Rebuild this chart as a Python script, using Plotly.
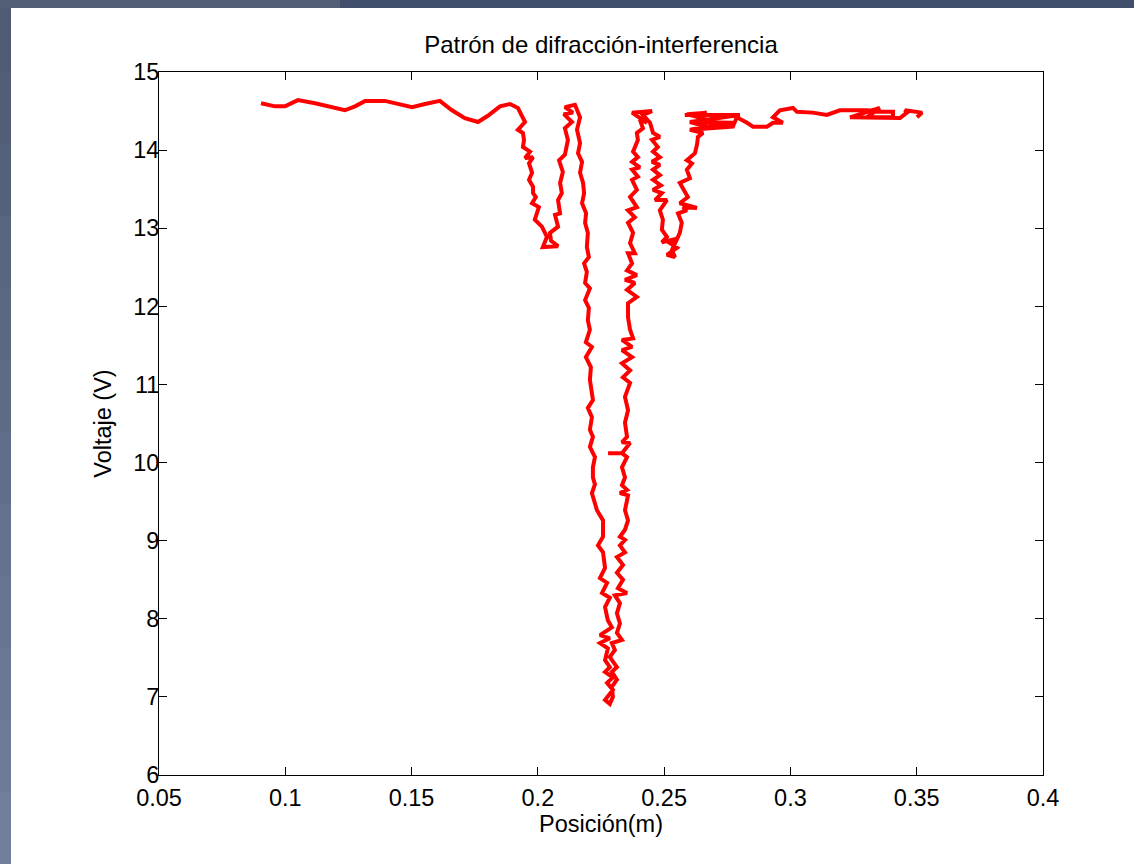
import plotly.graph_objects as go

# ---- data ----
posicion_m = [
    0.0904, 0.0959, 0.0999, 0.1050, 0.1118, 0.1177, 0.1236, 0.1276, 0.1316, 0.1395,
    0.1454, 0.1502, 0.1553, 0.1612, 0.1660, 0.1711, 0.1763, 0.1802, 0.1850, 0.1890,
    0.1921, 0.1941, 0.1949,
    # first side dip, down
    0.1921, 0.1941, 0.1945, 0.1941, 0.1969, 0.1949, 0.1981, 0.1965, 0.1977, 0.1965,
    0.1981, 0.1981, 0.1992, 0.1977, 0.2004, 0.1988, 0.2016, 0.2036, 0.2020, 0.2080,
    # first side dip, up
    0.2052, 0.2048, 0.2080, 0.2068, 0.2088, 0.2080, 0.2095, 0.2088, 0.2099, 0.2084,
    0.2107, 0.2119, 0.2107, 0.2135, 0.2103, 0.2139, 0.2107, 0.2147,
    # central minimum, down
    0.2167, 0.2155, 0.2167, 0.2159, 0.2175, 0.2167, 0.2179, 0.2183, 0.2175, 0.2191,
    0.2187, 0.2198, 0.2194, 0.2202, 0.2183, 0.2194, 0.2187, 0.2206, 0.2187, 0.2202,
    0.2198, 0.2206, 0.2190, 0.2214, 0.2190, 0.2210, 0.2206, 0.2214, 0.2218, 0.2198,
    0.2214, 0.2206, 0.2218, 0.2206, 0.2226, 0.2218, 0.2218, 0.2226, 0.2214, 0.2234,
    0.2258, 0.2258, 0.2238, 0.2258, 0.2266, 0.2246, 0.2274, 0.2254, 0.2285, 0.2266,
    0.2277, 0.2293, 0.2246, 0.2285, 0.2246, 0.2277, 0.2266, 0.2285, 0.2266, 0.2297,
    0.2274, 0.2297, 0.2266, 0.2285,
    # central minimum, up
    0.2297, 0.2293, 0.2313, 0.2293, 0.2313, 0.2285, 0.2305, 0.2293, 0.2333, 0.2313,
    0.2325, 0.2313, 0.2325, 0.2305, 0.2353, 0.2317, 0.2337, 0.2313, 0.2337, 0.2313,
    0.2345, 0.2325, 0.2345, 0.2325, 0.2345, 0.2357, 0.2345, 0.2357, 0.2325, 0.2353,
    0.2333, 0.2345, 0.2333, 0.2353, 0.2333, 0.2278, 0.2333, 0.2365, 0.2333, 0.2353,
    0.2345, 0.2357, 0.2345, 0.2365, 0.2337, 0.2365, 0.2333, 0.2373, 0.2333, 0.2373,
    0.2333, 0.2377, 0.2365, 0.2357, 0.2357, 0.2392, 0.2353, 0.2384, 0.2345, 0.2392,
    0.2353, 0.2373, 0.2357, 0.2384, 0.2365, 0.2377, 0.2357, 0.2384, 0.2357, 0.2392,
    0.2365, 0.2392, 0.2373, 0.2396, 0.2373, 0.2404, 0.2373, 0.2396, 0.2377, 0.2396,
    0.2392, 0.2416, 0.2404, 0.2432, 0.2373, 0.2452, 0.2416, 0.2444,
    # second side dip, down
    0.2456, 0.2483, 0.2452, 0.2475, 0.2456, 0.2483, 0.2452, 0.2483, 0.2456, 0.2483,
    0.2456, 0.2487, 0.2456, 0.2491, 0.2464, 0.2511, 0.2483, 0.2495, 0.2491, 0.2511,
    0.2491, 0.2555, 0.2523, 0.2551, 0.2511, 0.2543, 0.2531,
    # second side dip, up
    0.2562, 0.2570, 0.2555, 0.2590, 0.2574, 0.2630, 0.2562, 0.2594, 0.2562, 0.2602,
    0.2590, 0.2610, 0.2590, 0.2622, 0.2630, 0.2634, 0.2654, 0.2602, 0.2669, 0.2602,
    0.2669, 0.2590, 0.2669,
    # right plateau
    0.2582, 0.2800, 0.2602, 0.2772, 0.2602, 0.2772, 0.2788, 0.2828, 0.2852, 0.2907,
    0.2931, 0.2970, 0.2931, 0.2958, 0.3010, 0.3026, 0.3089, 0.3144, 0.3196, 0.3303,
    0.3354, 0.3406, 0.3406, 0.3303, 0.3327, 0.3354, 0.3236, 0.3434, 0.3461, 0.3453,
    0.3521, 0.3513, 0.3501,
]

voltaje_V = [
    14.60, 14.56, 14.56, 14.64, 14.60, 14.55, 14.51, 14.56, 14.63, 14.63,
    14.59, 14.55, 14.59, 14.63, 14.51, 14.41, 14.36, 14.44, 14.56, 14.59,
    14.54, 14.42, 14.36,
    14.26, 14.22, 14.13, 14.04, 13.98, 13.90, 13.91, 13.83, 13.71, 13.62,
    13.53, 13.45, 13.40, 13.32, 13.27, 13.11, 13.02, 12.89, 12.76, 12.77,
    12.84, 12.94, 13.02, 13.17, 13.19, 13.36, 13.45, 13.58, 13.72, 13.87,
    13.94, 14.13, 14.28, 14.36, 14.46, 14.48, 14.55, 14.58,
    14.42, 14.26, 14.09, 13.96, 13.85, 13.71, 13.58, 13.45, 13.32, 13.19,
    13.07, 12.94, 12.76, 12.63, 12.55, 12.44, 12.30, 12.23, 12.08, 11.98,
    11.82, 11.70, 11.54, 11.48, 11.35, 11.22, 11.06, 10.93, 10.80, 10.70,
    10.58, 10.42, 10.33, 10.20, 10.07, 9.94, 9.81, 9.72, 9.61, 9.39,
    9.26, 9.05, 8.94, 8.85, 8.65, 8.52, 8.46, 8.33, 8.27, 8.15,
    7.98, 7.89, 7.79, 7.75, 7.69, 7.62, 7.47, 7.38, 7.32, 7.25,
    7.18, 7.09, 6.96, 6.91,
    7.00, 7.13, 7.22, 7.32, 7.38, 7.51, 7.60, 7.69, 7.73, 7.82,
    7.94, 8.07, 8.20, 8.30, 8.33, 8.39, 8.50, 8.59, 8.69, 8.79,
    8.85, 8.94, 9.01, 9.05, 9.14, 9.26, 9.39, 9.58, 9.61, 9.65,
    9.71, 9.81, 9.94, 10.07, 10.12, 10.12, 10.12, 10.25, 10.26, 10.33,
    10.51, 10.67, 10.84, 11.02, 11.09, 11.18, 11.27, 11.35, 11.44, 11.48,
    11.57, 11.59, 11.70, 11.86, 12.04, 12.12, 12.21, 12.30, 12.34, 12.40,
    12.46, 12.55, 12.68, 12.68, 12.81, 12.94, 13.07, 13.14, 13.23, 13.27,
    13.40, 13.49, 13.62, 13.66, 13.75, 13.78, 13.85, 13.91, 13.98, 14.13,
    14.22, 14.28, 14.39, 14.35, 14.48, 14.50, 14.45, 14.35,
    14.22, 14.17, 14.13, 14.04, 13.98, 13.91, 13.85, 13.81, 13.75, 13.68,
    13.62, 13.55, 13.49, 13.45, 13.36, 13.36, 13.23, 13.11, 12.98, 12.89,
    12.82, 12.87, 12.81, 12.75, 12.66, 12.63, 12.72,
    12.94, 13.07, 13.19, 13.23, 13.27, 13.26, 13.32, 13.40, 13.58, 13.64,
    13.75, 13.83, 13.87, 13.96, 14.07, 14.17, 14.22, 14.26, 14.30, 14.36,
    14.39, 14.46, 14.48,
    14.45, 14.45, 14.36, 14.35, 14.26, 14.30, 14.42, 14.35, 14.30, 14.30,
    14.35, 14.35, 14.42, 14.51, 14.54, 14.49, 14.48, 14.45, 14.51, 14.51,
    14.49, 14.49, 14.42, 14.42, 14.48, 14.54, 14.42, 14.41, 14.48, 14.51,
    14.48, 14.45, 14.42,
]

x_tick_vals = [0.05, 0.1, 0.15, 0.2, 0.25, 0.3, 0.35, 0.4]
x_tick_text = ["0.05", "0.1", "0.15", "0.2", "0.25", "0.3", "0.35", "0.4"]
y_tick_vals = [6, 7, 8, 9, 10, 11, 12, 13, 14, 15]
y_tick_text = ["6", "7", "8", "9", "10", "11", "12", "13", "14", "15"]

# ---- figure ----
W, H = 1134, 864
L, R, T, B = 159, 91, 72, 89
pw, ph = W - L - R, H - T - B

def px_to_paper_x(px):
    return (px - L) / pw

def py_to_paper_y(py):
    return 1 - (py - T) / ph

fig = go.Figure()
fig.add_trace(go.Scatter(
    x=posicion_m, y=voltaje_V, mode="lines",
    line=dict(color="#ff0000", width=4),
    showlegend=False, hoverinfo="x+y",
))

shapes = []
# slide-like background strips (left gradient and top band)
steps = 12
top_c = (78, 91, 115)
bot_c = (112, 128, 156)
for i in range(steps):
    f = i / (steps - 1)
    c = tuple(int(top_c[k] + (bot_c[k] - top_c[k]) * f) for k in range(3))
    y0 = i * H / steps
    y1 = (i + 1) * H / steps + 1
    shapes.append(dict(type="rect", xref="paper", yref="paper",
                       x0=px_to_paper_x(0), x1=px_to_paper_x(11),
                       y0=py_to_paper_y(y1), y1=py_to_paper_y(y0),
                       fillcolor="rgb(%d,%d,%d)" % c, line=dict(width=0), layer="below"))
shapes.append(dict(type="rect", xref="paper", yref="paper",
                   x0=px_to_paper_x(0), x1=px_to_paper_x(340),
                   y0=py_to_paper_y(8), y1=py_to_paper_y(0),
                   fillcolor="#525f77", line=dict(width=0), layer="below"))
shapes.append(dict(type="rect", xref="paper", yref="paper",
                   x0=px_to_paper_x(340), x1=px_to_paper_x(W),
                   y0=py_to_paper_y(8), y1=py_to_paper_y(0),
                   fillcolor="#414f6d", line=dict(width=0), layer="below"))

font_family = "Liberation Sans, Arial, sans-serif"
fs = 23.5

fig.update_layout(
    width=W, height=H,
    margin=dict(l=L, r=R, t=T, b=B, autoexpand=False),
    paper_bgcolor="white", plot_bgcolor="white",
    font=dict(family=font_family, size=fs, color="black"),
    title=dict(text="Patrón de difracción-interferencia",
               x=px_to_paper_x(601), xref="paper", xanchor="center",
               y=1 - 45 / H, yref="container", yanchor="middle",
               font=dict(size=24, family=font_family, color="black")),
    shapes=shapes,
    xaxis=dict(range=[0.05, 0.4], tickvals=x_tick_vals, ticktext=x_tick_text,
               showline=True, linecolor="black", linewidth=1, mirror="ticks",
               ticks="inside", ticklen=8, tickcolor="black", tickwidth=1,
               showgrid=False, zeroline=False,
               tickfont=dict(size=fs), ticklabelstandoff=2,
               title=dict(text="Posición(m)", font=dict(size=fs), standoff=4)),
    yaxis=dict(range=[6, 15], tickvals=y_tick_vals, ticktext=y_tick_text,
               showline=True, linecolor="black", linewidth=1, mirror="ticks",
               ticks="inside", ticklen=8, tickcolor="black", tickwidth=1,
               showgrid=False, zeroline=False,
               tickfont=dict(size=fs), ticklabelstandoff=-6,
               title=dict(text="Voltaje (V)", font=dict(size=fs), standoff=14)),
)

fig.write_html("out.html", config={"displayModeBar": False},
               post_script="document.body.style.margin='0px';")
